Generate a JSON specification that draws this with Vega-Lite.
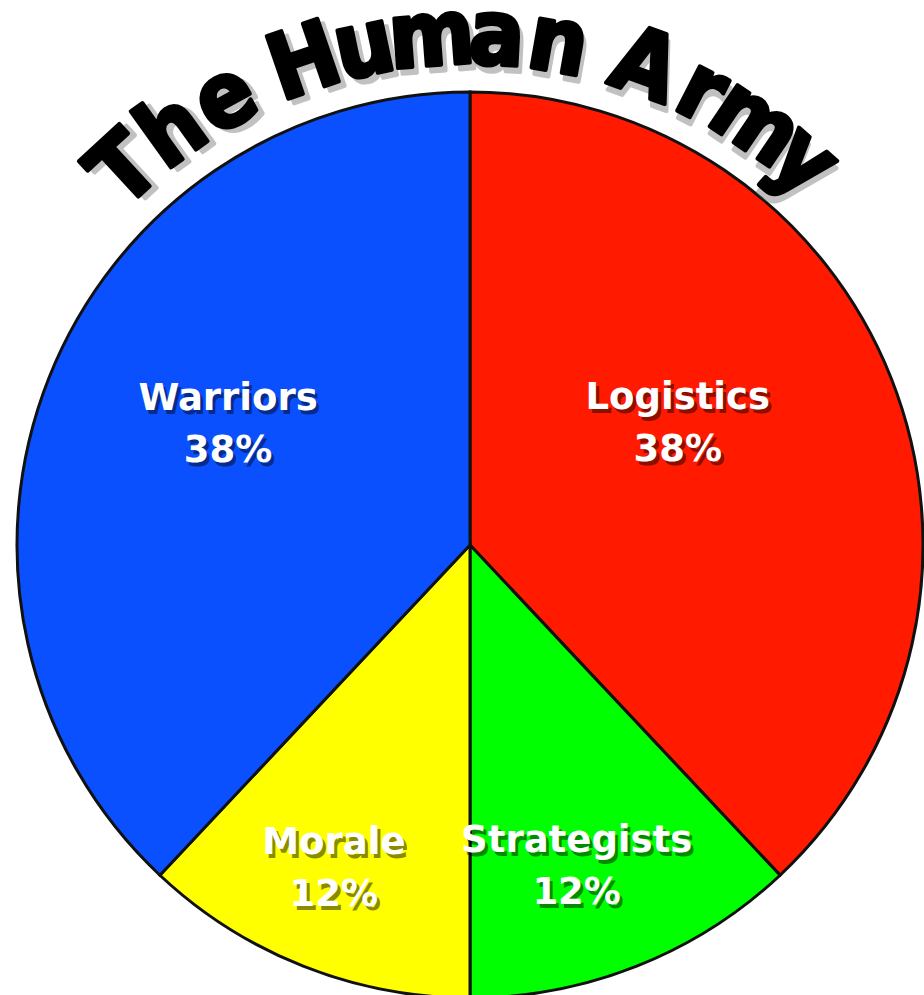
{
  "$schema": "https://vega.github.io/schema/vega-lite/v6.json",
  "width": 908,
  "height": 890,
  "autosize": "none",
  "padding": {"left": 16, "top": 100, "right": 0, "bottom": 5},
  "background": "white",
  "config": {"view": {"stroke": null}},
  "datasets": {
    "slices": [
      {"name": "Logistics", "value": 38, "rank": 1, "label": "Logistics\n38%"},
      {"name": "Strategists", "value": 12, "rank": 2, "label": "Strategists\n12%"},
      {"name": "Morale", "value": 12, "rank": 3, "label": "Morale\n12%"},
      {"name": "Warriors", "value": 38, "rank": 4, "label": "Warriors\n38%"}
    ],
    "title": [
      {"ch": "T", "i": 0}, {"ch": "h", "i": 1}, {"ch": "e", "i": 2},
      {"ch": "H", "i": 3.4}, {"ch": "u", "i": 4.4}, {"ch": "m", "i": 5.5}, {"ch": "a", "i": 6.55}, {"ch": "n", "i": 7.55},
      {"ch": "A", "i": 9}, {"ch": "r", "i": 10}, {"ch": "m", "i": 11}, {"ch": "y", "i": 12}
    ]
  },
  "layer": [
    {
      "data": {"name": "slices"},
      "mark": {"type": "arc", "radius": 453, "stroke": "#111111", "strokeWidth": 3},
      "encoding": {
        "theta": {"field": "value", "type": "quantitative", "stack": true},
        "order": {"field": "rank", "type": "quantitative"},
        "color": {
          "field": "name", "type": "nominal", "legend": null,
          "scale": {"domain": ["Logistics", "Strategists", "Morale", "Warriors"],
                    "range": ["#ff1a00", "#00ff00", "#ffff00", "#0a50ff"]}
        }
      }
    },
    {
      "data": {"name": "slices"},
      "mark": {"type": "text", "font": "DejaVu Sans", "fontWeight": "bold", "fontSize": 37, "lineBreak": "\n", "lineHeight": 52, "baseline": "middle", "align": "center", "color": "#000000", "opacity": 0.45, "dx": -14, "dy": -22},
      "encoding": {
        "theta": {"field": "value", "type": "quantitative", "stack": true,
                  "scale": {"type": "linear", "domain": [0, 19, 44, 56, 81, 100], "range": [0, 1.0786, 2.775, 3.4941, 5.2028, 6.2832], "zero": false}},
        "order": {"field": "rank", "type": "quantitative"},
        "radius": {"field": "value", "type": "quantitative", "scale": {"type": "linear", "domain": [12, 38], "range": [345, 255], "zero": false}},
        "text": {"field": "label"}
      }
    },
    {
      "data": {"name": "slices"},
      "mark": {"type": "text", "font": "DejaVu Sans", "fontWeight": "bold", "fontSize": 37, "lineBreak": "\n", "lineHeight": 52, "baseline": "middle", "align": "center", "color": "#ffffff", "dx": -17, "dy": -26},
      "encoding": {
        "theta": {"field": "value", "type": "quantitative", "stack": true,
                  "scale": {"type": "linear", "domain": [0, 19, 44, 56, 81, 100], "range": [0, 1.0786, 2.775, 3.4941, 5.2028, 6.2832], "zero": false}},
        "order": {"field": "rank", "type": "quantitative"},
        "radius": {"field": "value", "type": "quantitative", "scale": {"type": "linear", "domain": [12, 38], "range": [345, 255], "zero": false}},
        "text": {"field": "label"}
      }
    },
    {
      "data": {"name": "title"},
      "mark": {"type": "text", "font": "Liberation Sans Narrow, DejaVu Sans Condensed, sans-serif", "fontWeight": "bold", "fontSize": 91, "baseline": "alphabetic", "align": "center", "color": "#777777", "stroke": "#777777", "strokeWidth": 4, "strokeJoin": "round", "opacity": 0.45, "dx": 4, "dy": 6, "radius": 481},
      "encoding": {
        "theta": {"field": "i", "type": "quantitative", "stack": null, "scale": {"domain": [0, 12], "range": [-0.745, 0.716], "zero": false}},
        "angle": {"field": "i", "type": "quantitative", "legend": null, "scale": {"domain": [0, 12], "range": [-42.7, 41], "zero": false}},
        "text": {"field": "ch"}
      }
    },
    {
      "data": {"name": "title"},
      "mark": {"type": "text", "font": "Liberation Sans Narrow, DejaVu Sans Condensed, sans-serif", "fontWeight": "bold", "fontSize": 91, "baseline": "alphabetic", "align": "center", "color": "#000000", "stroke": "#000000", "strokeWidth": 4, "strokeJoin": "round", "radius": 481},
      "encoding": {
        "theta": {"field": "i", "type": "quantitative", "stack": null, "scale": {"domain": [0, 12], "range": [-0.745, 0.716], "zero": false}},
        "angle": {"field": "i", "type": "quantitative", "legend": null, "scale": {"domain": [0, 12], "range": [-42.7, 41], "zero": false}},
        "text": {"field": "ch"}
      }
    }
  ],
  "resolve": {"scale": {"theta": "independent"}}
}
